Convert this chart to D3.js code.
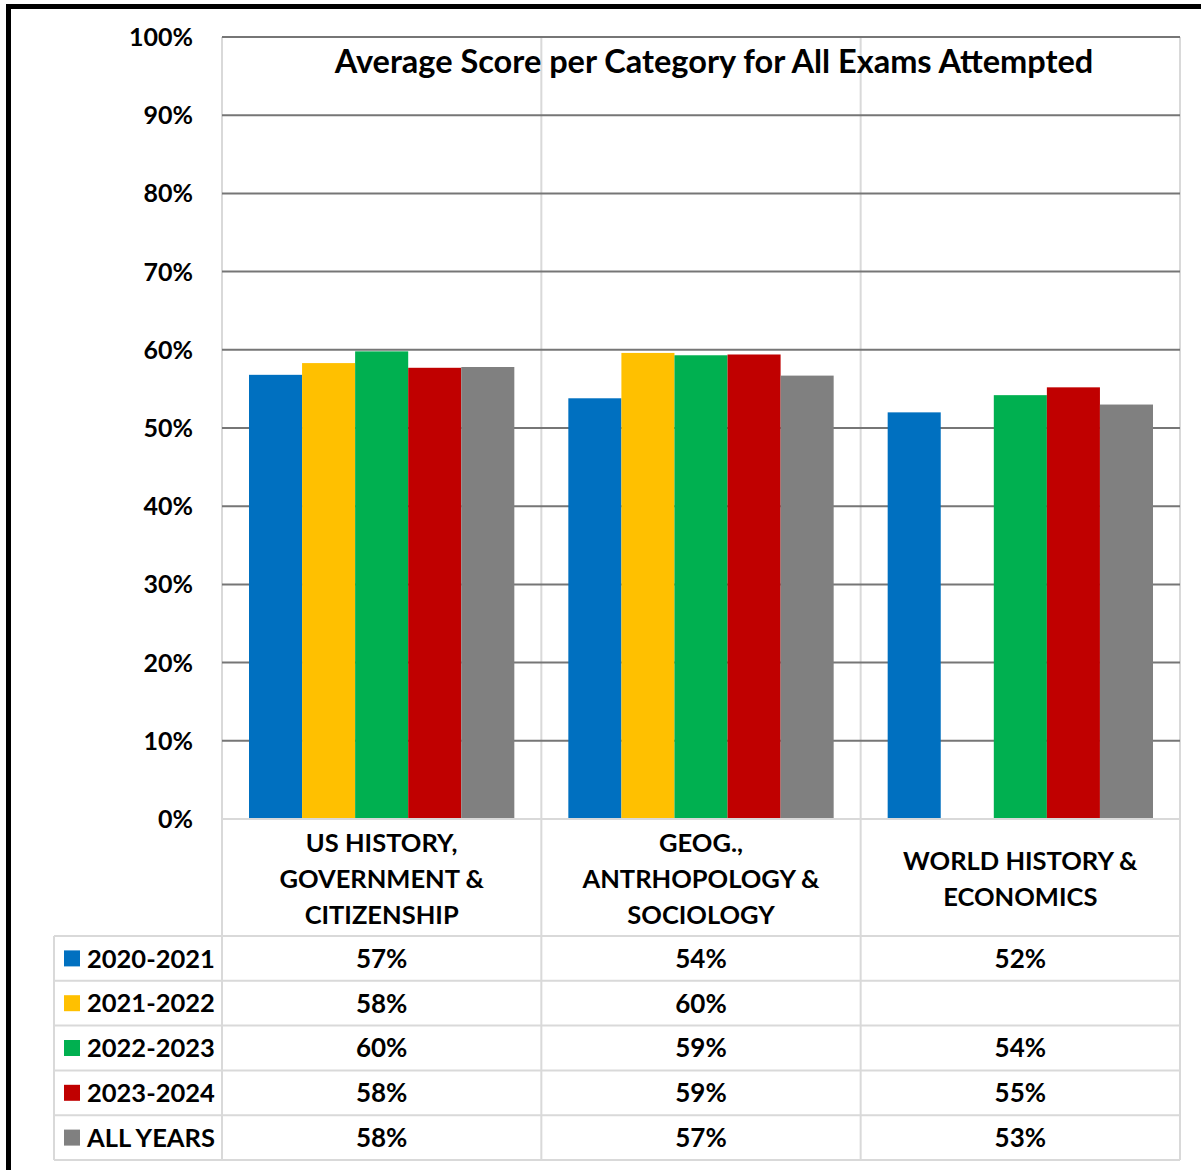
<!DOCTYPE html>
<html>
<head>
<meta charset="utf-8">
<script src="https://cdn.jsdelivr.net/npm/d3@7"></script>
<style>
  html, body { margin: 0; padding: 0; background: #fff; }
  svg { display: block; }
  text { font-family: Lato, "Open Sans", sans-serif; font-weight: bold; fill: #000; }
</style>
</head>
<body>
<svg id="chart" width="1201" height="1170"></svg>
<script>
const title = "Average Score per Category for All Exams Attempted";
const categories = [
  ["US HISTORY,", "GOVERNMENT &", "CITIZENSHIP"],
  ["GEOG.,", "ANTRHOPOLOGY &", "SOCIOLOGY"],
  ["WORLD HISTORY &", "ECONOMICS"]
];
const seriesNames = ["2020-2021", "2021-2022", "2022-2023", "2023-2024", "ALL YEARS"];
const seriesColors = ["#0070C0", "#FFC000", "#00B050", "#C00000", "#808080"];
const s2020_2021 = [0.568, 0.538, 0.520];
const s2021_2022 = [0.583, 0.596, null];
const s2022_2023 = [0.598, 0.593, 0.542];
const s2023_2024 = [0.577, 0.594, 0.552];
const sAllYears  = [0.578, 0.567, 0.530];
const seriesValues = [s2020_2021, s2021_2022, s2022_2023, s2023_2024, sAllYears];
const yTicks = [0, 0.1, 0.2, 0.3, 0.4, 0.5, 0.6, 0.7, 0.8, 0.9, 1.0];

const svg = d3.select("#chart");
const L = 222, R = 1180, T = 37, B = 819;
const tableTop = 936, rowH = 44.8, tableLeft = 54;
const tableBottom = tableTop + rowH * seriesNames.length;

const catIdx = categories.map((c, i) => i);
const x0 = d3.scaleBand().domain(catIdx).range([L, R]).padding(0);
const inset = 27;
const x1 = d3.scaleBand().domain(d3.range(seriesNames.length))
  .range([inset, x0.bandwidth() - inset]).padding(0);
const y = d3.scaleLinear().domain([0, 1]).range([B, T]);
const fmt = d3.format(".0%");

// outer border
svg.append("rect").attr("x", 8.5).attr("y", 6.5).attr("width", 1300).attr("height", 1300)
  .attr("fill", "none").attr("stroke", "#000").attr("stroke-width", 5);

// vertical light lines (category separators)
const vx = [L, ...catIdx.slice(1).map(i => x0(i)), R];
svg.selectAll("line.vsep").data(vx).join("line")
  .attr("x1", d => d).attr("x2", d => d).attr("y1", T).attr("y2", tableBottom)
  .attr("stroke", "#d9d9d9").attr("stroke-width", 2);
svg.append("line").attr("x1", tableLeft).attr("x2", tableLeft)
  .attr("y1", tableTop).attr("y2", tableBottom).attr("stroke", "#d9d9d9").attr("stroke-width", 2);

// gridlines
svg.selectAll("line.grid").data(yTicks.filter(d => d > 0)).join("line")
  .attr("x1", L).attr("x2", R).attr("y1", d => y(d)).attr("y2", d => y(d))
  .attr("stroke", "#767676").attr("stroke-width", 2);

// y-axis labels
svg.selectAll("text.ytick").data(yTicks).join("text")
  .attr("x", 193).attr("y", d => y(d)).attr("dy", "0.36em")
  .attr("text-anchor", "end").attr("font-size", 25).text(d => fmt(d));

// bars
seriesValues.forEach((vals, si) => {
  svg.append("g").selectAll("rect").data(vals.map((v, ci) => ({v, ci})).filter(d => d.v != null)).join("rect")
    .attr("x", d => x0(d.ci) + x1(si)).attr("width", x1.bandwidth())
    .attr("y", d => y(d.v)).attr("height", d => y(0) - y(d.v))
    .attr("fill", seriesColors[si]);
});

// axis baseline and table horizontal lines
svg.append("line").attr("x1", L).attr("x2", R).attr("y1", B).attr("y2", B)
  .attr("stroke", "#d9d9d9").attr("stroke-width", 2);
svg.selectAll("line.trow").data(d3.range(seriesNames.length + 1)).join("line")
  .attr("x1", tableLeft).attr("x2", R)
  .attr("y1", d => tableTop + d * rowH).attr("y2", d => tableTop + d * rowH)
  .attr("stroke", "#d9d9d9").attr("stroke-width", 2);

// title
svg.append("text").attr("x", 714).attr("y", 73).attr("text-anchor", "middle")
  .attr("font-size", 32.5).text(title);

// category labels
const lineGap = 36;
categories.forEach((lines, ci) => {
  const cx = x0(ci) + x0.bandwidth() / 2;
  const midY = (B + tableTop) / 2 + 1;
  const first = midY - (lines.length - 1) * lineGap / 2;
  lines.forEach((ln, li) => {
    svg.append("text").attr("x", cx).attr("y", first + li * lineGap).attr("dy", "0.36em")
      .attr("text-anchor", "middle").attr("font-size", 25.5).text(ln);
  });
});

// table rows
seriesNames.forEach((name, si) => {
  const cy = tableTop + si * rowH + rowH / 2;
  svg.append("rect").attr("x", 64).attr("y", cy - 8).attr("width", 16).attr("height", 16)
    .attr("fill", seriesColors[si]);
  svg.append("text").attr("x", 87).attr("y", cy).attr("dy", "0.36em")
    .attr("font-size", 25.5).text(name);
  seriesValues[si].forEach((v, ci) => {
    if (v == null) return;
    svg.append("text").attr("x", x0(ci) + x0.bandwidth() / 2).attr("y", cy).attr("dy", "0.36em")
      .attr("text-anchor", "middle").attr("font-size", 26).text(fmt(v));
  });
});
</script>
</body>
</html>
